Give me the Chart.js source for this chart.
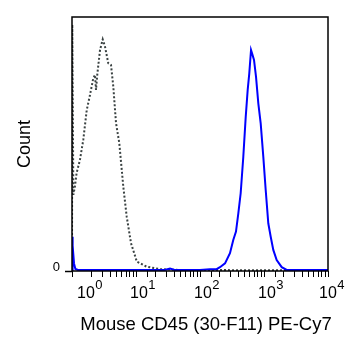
<!DOCTYPE html>
<html>
<head>
<meta charset="utf-8">
<script src="https://cdn.jsdelivr.net/npm/chart.js@4"></script>
<style>
  html, body { margin: 0; padding: 0; background: #fff; }
  #wrap { width: 359px; height: 350px; }
</style>
</head>
<body>
<div id="wrap"><canvas id="histChart"></canvas></div>
<script>
// isotype control (dotted)
const isoX = [1.0, 1.01, 1.05, 1.11, 1.18, 1.33, 1.50, 1.70, 1.91, 2.15, 2.29, 2.37, 2.48, 2.74, 3.02, 3.28, 3.69, 4.07, 4.42, 4.87, 5.48, 6.33, 7.16, 8.35, 10.3, 14.7, 23.7, 50, 150, 500, 2000, 10000];
const isoY = [0, 97, 30, 33.2, 38.6, 43.7, 51.6, 63.4, 69.3, 75.9, 77.2, 71.3, 77.2, 87.0, 91.2, 88.3, 81.8, 81.1, 72.6, 58.3, 50.4, 33.2, 21.4, 11.0, 3.7, 1.7, 0.7, 0.4, 0.4, 0.3, 0.3, 0.3];

// CD45 stained (blue)
const cd45X = [1.0, 1.01, 1.036, 1.075, 1.13, 1.24, 10, 28, 34, 40, 100, 143, 182, 205, 246, 294, 331, 365, 397, 432, 475, 518, 556, 589, 627, 656, 698, 750, 815, 888, 975, 1063, 1167, 1273, 1397, 1578, 1892, 2264, 10000];
const cd45Y = [0, 13.5, 10, 3, 0.8, 0.4, 0.4, 0.4, 1.0, 0.4, 0.4, 0.7, 0.7, 1.5, 3.0, 7.0, 12.2, 15.5, 22.7, 30.6, 45.0, 60.7, 71.3, 77.8, 87.0, 85.4, 83.1, 76.5, 66.0, 58.1, 45.0, 31.9, 18.8, 13.5, 8.3, 4.3, 1.5, 0.4, 0.4];

const xTickValues = [1, 10, 100, 1000, 10000];
const xTickExps = ['0', '1', '2', '3', '4'];
const yTickValues = [0];
const xTitle = 'Mouse CD45 (30-F11) PE-Cy7';
const yTitle = 'Count';

const FONT = "'Liberation Sans', Arial, sans-serif";

const toPoints = (xs, ys) => xs.map((x, i) => ({ x: x, y: ys[i] }));

// frame + superscript decade labels + x title
const axisDecor = {
    id: 'axisDecor',
    afterDraw(chart) {
        const ctx = chart.ctx;
        const area = chart.chartArea;
        const xScale = chart.scales.x;
        ctx.save();
        ctx.strokeStyle = '#000';
        ctx.lineWidth = 1.5;
        ctx.strokeRect(area.left, area.top, area.right - area.left, area.bottom - area.top);

        ctx.fillStyle = '#000';
        ctx.textBaseline = 'alphabetic';
        ctx.textAlign = 'left';
        xTickValues.forEach((v, i) => {
            const px = xScale.getPixelForValue(v);
            let start = px - 6;
            if (i === 0) start = px + 5;
            if (i === xTickValues.length - 1) start = px - 9;
            ctx.font = '16px ' + FONT;
            ctx.fillText('10', start, 298);
            const w = ctx.measureText('10').width;
            ctx.font = '13px ' + FONT;
            ctx.fillText(xTickExps[i], start + w + 0.5, 289);
        });

        ctx.font = '18.5px ' + FONT;
        ctx.textAlign = 'center';
        ctx.textBaseline = 'middle';
        ctx.fillText(xTitle, 206, 325);
        ctx.restore();
    }
};

const ctx = document.getElementById('histChart').getContext('2d');
new Chart(ctx, {
    type: 'scatter',
    data: {
        datasets: [
            {
                label: 'CD45',
                data: toPoints(cd45X, cd45Y),
                showLine: true,
                borderColor: '#0000ff',
                borderWidth: 2,
                pointRadius: 0,
                tension: 0
            },
            {
                label: 'Isotype',
                data: toPoints(isoX, isoY),
                showLine: true,
                borderColor: '#3a4242',
                borderWidth: 2,
                borderDash: [2, 2],
                pointRadius: 0,
                tension: 0
            }
        ]
    },
    options: {
        responsive: true,
        maintainAspectRatio: false,
        animation: false,
        layout: { padding: { top: 17, right: 31, bottom: 0, left: 0 } },
        plugins: {
            legend: { display: false },
            tooltip: { enabled: false }
        },
        scales: {
            x: {
                type: 'logarithmic',
                min: 1,
                max: 10000,
                border: { display: false },
                grid: { drawOnChartArea: false, drawTicks: true, tickLength: 6, color: '#000', tickColor: '#000', tickWidth: 1 },
                ticks: { display: false },
                afterFit: (scale) => { scale.height = 79; }
            },
            y: {
                min: 0,
                max: 100,
                border: { display: false },
                grid: { drawOnChartArea: false, drawTicks: true, tickLength: 7, tickColor: '#000', tickWidth: 1.5 },
                ticks: {
                    color: '#000',
                    padding: 5,
                    labelOffset: -4,
                    font: { family: FONT, size: 13 }
                },
                afterBuildTicks: (scale) => { scale.ticks = yTickValues.map(v => ({ value: v })); },
                title: {
                    display: true,
                    text: yTitle,
                    color: '#000',
                    font: { family: FONT, size: 18 },
                    padding: { top: 14, bottom: 0 }
                },
                afterFit: (scale) => { scale.width = 72; }
            }
        }
    },
    plugins: [axisDecor]
});
</script>
</body>
</html>
